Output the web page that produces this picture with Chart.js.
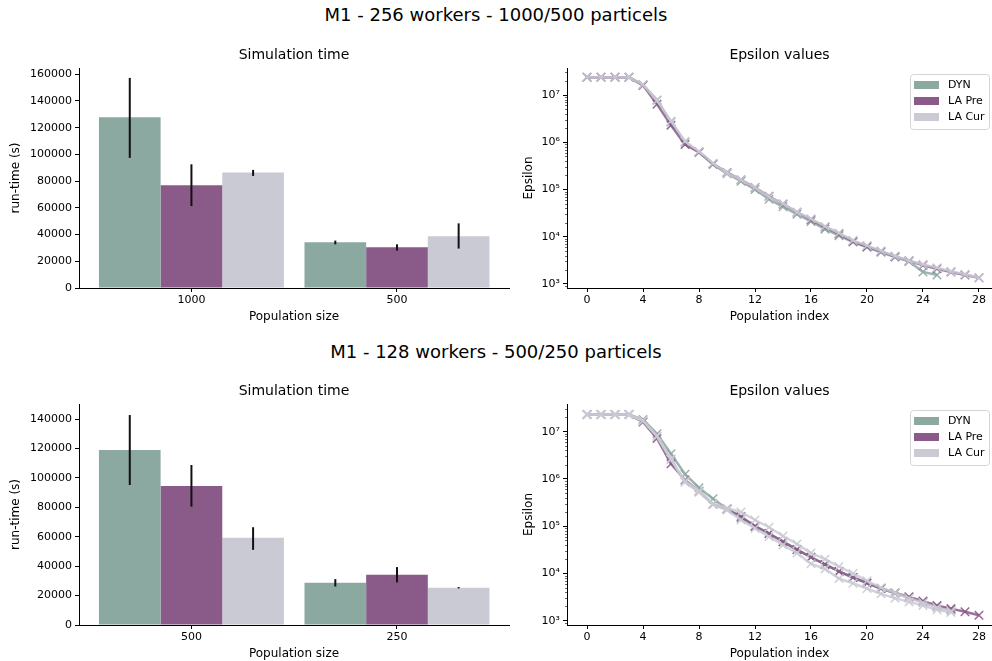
<!DOCTYPE html>
<html lang="en">
<head>
    <meta charset="UTF-8">
    <title>M1 - simulation time and epsilon values</title>
    <script src="https://cdn.jsdelivr.net/npm/chart.js"></script>
    <style>
        body {
            margin: 0;
            width: 992px;
            height: 661px;
            overflow: hidden;
            background: #ffffff;
            font-family: 'DejaVu Sans', sans-serif;
            position: relative;
        }
        .suptitle {
            position: absolute;
            left: 0;
            width: 992px;
            text-align: center;
            font-size: 18px;
            color: #000;
            line-height: 22px;
        }
        .panel {
            position: absolute;
        }
    </style>
</head>
<body>
    <div class="suptitle" style="top: 4px;">M1 - 256 workers - 1000/500 particels</div>
    <div class="suptitle" style="top: 341px;">M1 - 128 workers - 500/250 particels</div>

    <div class="panel" style="left: 0; top: 38px; width: 520px; height: 286px;"><canvas id="timeTop"></canvas></div>
    <div class="panel" style="left: 520px; top: 38px; width: 472px; height: 286px;"><canvas id="epsTop"></canvas></div>
    <div class="panel" style="left: 0; top: 374px; width: 520px; height: 287px;"><canvas id="timeBottom"></canvas></div>
    <div class="panel" style="left: 520px; top: 374px; width: 472px; height: 287px;"><canvas id="epsBottom"></canvas></div>

    <script>
        // methods and colours
        const methods = ['DYN', 'LA Pre', 'LA Cur'];
        const methodColors = ['#8ba8a1', '#8a5a89', '#cacad4'];

        // run-time, 256 workers
        const topSizes = ['1000', '500'];
        const topDyn = [127800, 34200];
        const topDynLow = [97400, 32700];
        const topDynHigh = [157300, 35500];
        const topLaPre = [76900, 30500];
        const topLaPreLow = [61400, 28000];
        const topLaPreHigh = [92600, 32700];
        const topLaCur = [86400, 38700];
        const topLaCurLow = [83900, 29500];
        const topLaCurHigh = [88400, 48400];
        const topRuntimeTicks = [0, 20000, 40000, 60000, 80000, 100000, 120000, 140000, 160000];

        // run-time, 128 workers
        const bottomSizes = ['500', '250'];
        const bottomDyn = [119000, 28700];
        const bottomDynLow = [95200, 26200];
        const bottomDynHigh = [142800, 31200];
        const bottomLaPre = [94600, 34200];
        const bottomLaPreLow = [80500, 29000];
        const bottomLaPreHigh = [108800, 39400];
        const bottomLaCur = [59300, 25300];
        const bottomLaCurLow = [51100, 24900];
        const bottomLaCurHigh = [66500, 25800];
        const bottomRuntimeTicks = [0, 20000, 40000, 60000, 80000, 100000, 120000, 140000];

        // epsilon per population index, 256 workers
        const topDynEps = [2.37e7, 2.37e7, 2.37e7, 2.37e7, 1.65e7, 7.8e6, 2.7e6, 1.0e6, 6.1e5, 3.4e5,
            2.15e5, 1.5e5, 1.0e5, 6.2e4, 4.3e4, 3.0e4, 2.1e4, 1.45e4, 1.05e4, 7.7e3,
            6.0e3, 4.7e3, 3.7e3, 3.0e3, 1.8e3, 1.55e3];
        const topLaPreEps = [2.37e7, 2.37e7, 2.37e7, 2.37e7, 1.6e7, 6.4e6, 2.3e6, 9.0e5, 6.2e5, 3.5e5,
            2.3e5, 1.6e5, 1.1e5, 7.2e4, 4.9e4, 3.3e4, 2.3e4, 1.6e4, 1.15e4, 8.0e3,
            6.2e3, 4.9e3, 3.8e3, 3.1e3, 2.5e3, 2.1e3, 1.8e3, 1.55e3, 1.35e3];
        const topLaCurEps = [2.37e7, 2.37e7, 2.37e7, 2.37e7, 1.65e7, 7.6e6, 2.8e6, 1.05e6, 6.4e5, 3.6e5,
            2.25e5, 1.6e5, 1.1e5, 7.0e4, 5.0e4, 3.3e4, 2.4e4, 1.65e4, 1.2e4, 8.4e3,
            6.5e3, 5.0e3, 3.9e3, 3.1e3, 2.6e3, 2.2e3, 1.85e3, 1.6e3, 1.35e3];

        // epsilon per population index, 128 workers (LA Cur has two runs)
        const bottomDynEps = [2.3e7, 2.3e7, 2.3e7, 2.3e7, 1.8e7, 9.0e6, 3.4e6, 1.26e6, 6.5e5, 3.8e5,
            2.35e5, 1.5e5, 1.0e5, 7.0e4, 4.7e4, 3.2e4, 2.2e4, 1.55e4, 1.1e4, 8.2e3,
            6.2e3, 4.8e3, 3.8e3, 3.1e3, 2.5e3, 2.0e3, 1.7e3];
        const bottomLaPreEps = [2.3e7, 2.3e7, 2.3e7, 2.3e7, 1.6e7, 7.2e6, 2.1e6, 9.5e5, 5.5e5, 2.9e5,
            2.3e5, 1.6e5, 1.0e5, 7.0e4, 4.7e4, 3.2e4, 2.2e4, 1.55e4, 1.1e4, 8.2e3,
            6.3e3, 4.8e3, 3.9e3, 3.2e3, 2.6e3, 2.1e3, 1.8e3, 1.55e3, 1.3e3];
        const bottomLaCurEpsA = [2.3e7, 2.3e7, 2.3e7, 2.3e7, 1.7e7, 8.0e6, 2.6e6, 9.0e5, 5.6e5, 3.0e5,
            2.4e5, 2.0e5, 1.35e5, 9.5e4, 6.2e4, 4.2e4, 2.7e4, 2.0e4, 1.4e4, 1.0e4,
            7.0e3, 5.0e3, 3.9e3, 3.0e3, 2.4e3, 1.9e3, 1.6e3];
        const bottomLaCurEpsB = [2.3e7, 2.3e7, 2.3e7, 2.3e7, 1.7e7, 8.0e6, 2.6e6, 8.5e5, 5.2e5, 2.9e5,
            2.2e5, 1.35e5, 9.0e4, 6.0e4, 4.0e4, 2.7e4, 1.6e4, 1.25e4, 7.8e3, 6.2e3,
            4.8e3, 3.7e3, 3.0e3, 2.5e3, 2.1e3, 1.7e3, 1.5e3];

        const indexTicks = [0, 4, 8, 12, 16, 20, 24, 28];
        const epsTicks = [1e3, 1e4, 1e5, 1e6, 1e7];

        Chart.defaults.font.family = "'DejaVu Sans', sans-serif";
        Chart.defaults.font.size = 11;
        Chart.defaults.color = '#000';
        Chart.defaults.animation = false;
        Chart.defaults.responsive = true;
        Chart.defaults.maintainAspectRatio = false;

        const superDigits = { '0': '⁰', '1': '¹', '2': '²', '3': '³', '4': '⁴', '5': '⁵', '6': '⁶', '7': '⁷', '8': '⁸', '9': '⁹' };
        function powerLabel(v) {
            const e = Math.round(Math.log10(v));
            return '10' + String(e).split('').map(d => superDigits[d]).join('');
        }

        function withAlpha(hex, a) {
            const n = parseInt(hex.slice(1), 16);
            return `rgba(${n >> 16}, ${(n >> 8) & 255}, ${n & 255}, ${a})`;
        }

        // subplot title centred over the plot area
        const axesTitle = {
            id: 'axesTitle',
            afterDraw(chart, args, opts) {
                const ctx = chart.ctx;
                const area = chart.chartArea;
                ctx.save();
                ctx.font = "14px 'DejaVu Sans'";
                ctx.fillStyle = '#000';
                ctx.textAlign = 'center';
                ctx.textBaseline = 'middle';
                ctx.fillText(opts.text, (area.left + area.right) / 2, 17);
                ctx.restore();
            }
        };

        // black vertical error bars on top of each bar
        const errorBars = {
            id: 'errorBars',
            afterDatasetsDraw(chart) {
                const ctx = chart.ctx;
                const y = chart.scales.y;
                ctx.save();
                ctx.strokeStyle = '#111';
                ctx.lineWidth = 2;
                chart.data.datasets.forEach((ds, i) => {
                    const meta = chart.getDatasetMeta(i);
                    meta.data.forEach((bar, j) => {
                        ctx.beginPath();
                        ctx.moveTo(bar.x, y.getPixelForValue(ds.low[j]));
                        ctx.lineTo(bar.x, y.getPixelForValue(ds.high[j]));
                        ctx.stroke();
                    });
                });
                ctx.restore();
            }
        };

        // minor ticks on the log axis
        const minorTicks = {
            id: 'minorTicks',
            afterDraw(chart) {
                const y = chart.scales.y;
                const ctx = chart.ctx;
                const left = chart.chartArea.left;
                ctx.save();
                ctx.strokeStyle = '#000';
                ctx.lineWidth = 0.6;
                for (let e = 2; e <= 7; e++) {
                    for (let k = 2; k <= 9; k++) {
                        const v = k * Math.pow(10, e);
                        if (v < y.min || v > y.max) continue;
                        const py = Math.round(y.getPixelForValue(v)) + 0.5;
                        ctx.beginPath();
                        ctx.moveTo(left - 2, py);
                        ctx.lineTo(left, py);
                        ctx.stroke();
                    }
                }
                ctx.restore();
            }
        };

        // boxed legend with colour patches, top right of the plot
        const patchLegend = {
            id: 'patchLegend',
            afterDraw(chart) {
                const ctx = chart.ctx;
                const area = chart.chartArea;
                const w = 79, h = 55;
                const bx = area.right - w - 3, by = area.top + 6;
                ctx.save();
                ctx.fillStyle = 'rgba(255,255,255,0.8)';
                ctx.strokeStyle = '#d4d4d4';
                ctx.lineWidth = 1;
                ctx.beginPath();
                ctx.roundRect(bx + 0.5, by + 0.5, w, h, 3);
                ctx.fill();
                ctx.stroke();
                ctx.font = "11px 'DejaVu Sans'";
                ctx.textBaseline = 'middle';
                methods.forEach((m, i) => {
                    const cy = by + 11 + i * 16;
                    ctx.fillStyle = methodColors[i];
                    ctx.fillRect(bx + 4, cy - 4, 25, 8);
                    ctx.fillStyle = '#000';
                    ctx.fillText(m, bx + 38, cy);
                });
                ctx.restore();
            }
        };

        const axisLine = { display: true, color: '#000', width: 1 };
        const tickGrid = { display: true, drawOnChartArea: false, drawTicks: true, tickLength: 4, color: '#000', offset: false };
        const labelFont = { size: 12 };

        // keep the plot area at a fixed size, whatever the tick labels need
        function fixHeight(h) {
            return s => { s.height = h; s.paddingLeft = 0; s.paddingRight = 0; };
        }
        function fixWidth(w) {
            return s => { s.width = w; s.paddingTop = 0; s.paddingBottom = 0; };
        }

        function timeChart(id, sizes, series, yMax, yTicks) {
            const datasets = series.map((s, i) => ({
                label: methods[i],
                data: s.values.map((v, j) => ({ x: j, y: v })),
                low: s.low,
                high: s.high,
                backgroundColor: methodColors[i],
                borderWidth: 0,
                categoryPercentage: 0.9,
                barPercentage: 1.0
            }));
            return new Chart(document.getElementById(id), {
                type: 'bar',
                data: { datasets: datasets },
                options: {
                    layout: { autoPadding: false, padding: { left: 0, right: 11, top: 30, bottom: 0 } },
                    plugins: {
                        legend: { display: false },
                        tooltip: { enabled: false },
                        axesTitle: { text: 'Simulation time' }
                    },
                    scales: {
                        x: {
                            type: 'linear',
                            min: -0.547,
                            max: 1.545,
                            offset: false,
                            border: axisLine,
                            grid: tickGrid,
                            afterBuildTicks: s => { s.ticks = sizes.map((_, i) => ({ value: i })); },
                            afterFit: fixHeight(36),
                            ticks: { padding: 2, maxRotation: 0, callback: v => sizes[v] },
                            title: { display: true, text: 'Population size', font: labelFont, padding: { top: 0, bottom: 0 } }
                        },
                        y: {
                            min: 0,
                            max: yMax,
                            border: axisLine,
                            grid: tickGrid,
                            afterBuildTicks: s => { s.ticks = yTicks.map(v => ({ value: v })); },
                            afterFit: fixWidth(79),
                            ticks: { padding: 3, callback: v => String(v) },
                            title: { display: true, text: 'run-time (s)', font: labelFont, padding: { top: 9, bottom: 0 } }
                        }
                    }
                },
                plugins: [axesTitle, errorBars]
            });
        }

        function epsChart(id, runs, yMin, yMax) {
            const order = [3, 2, 1];
            const datasets = runs.map(r => ({
                label: methods[r.method],
                data: r.values.map((v, j) => ({ x: j, y: v })),
                borderColor: withAlpha(methodColors[r.method], 0.85),
                backgroundColor: withAlpha(methodColors[r.method], 0.85),
                borderWidth: 2.5,
                pointStyle: 'crossRot',
                pointRadius: 6,
                pointBorderWidth: 1.5,
                pointBorderColor: withAlpha(methodColors[r.method], 0.9),
                order: order[r.method],
                tension: 0
            }));
            return new Chart(document.getElementById(id), {
                type: 'line',
                data: { datasets: datasets },
                options: {
                    layout: { autoPadding: false, padding: { left: 0, right: 0, top: 30, bottom: 0 } },
                    plugins: {
                        legend: { display: false },
                        tooltip: { enabled: false },
                        axesTitle: { text: 'Epsilon values' }
                    },
                    scales: {
                        x: {
                            type: 'linear',
                            min: -1.43,
                            max: 28.93,
                            border: axisLine,
                            grid: tickGrid,
                            afterBuildTicks: s => { s.ticks = indexTicks.map(v => ({ value: v })); },
                            afterFit: fixHeight(36),
                            ticks: { padding: 2, maxRotation: 0 },
                            title: { display: true, text: 'Population index', font: labelFont, padding: { top: 0, bottom: 0 } }
                        },
                        y: {
                            type: 'logarithmic',
                            min: yMin,
                            max: yMax,
                            border: axisLine,
                            grid: tickGrid,
                            afterBuildTicks: s => { s.ticks = epsTicks.map(v => ({ value: v })); },
                            afterFit: fixWidth(47),
                            ticks: { padding: 3, callback: v => powerLabel(v) },
                            title: { display: true, text: 'Epsilon', font: labelFont, padding: { top: 2, bottom: 0 } }
                        }
                    }
                },
                plugins: [axesTitle, minorTicks, patchLegend]
            });
        }

        timeChart('timeTop', topSizes, [
            { values: topDyn, low: topDynLow, high: topDynHigh },
            { values: topLaPre, low: topLaPreLow, high: topLaPreHigh },
            { values: topLaCur, low: topLaCurLow, high: topLaCurHigh }
        ], 164700, topRuntimeTicks);

        timeChart('timeBottom', bottomSizes, [
            { values: bottomDyn, low: bottomDynLow, high: bottomDynHigh },
            { values: bottomLaPre, low: bottomLaPreLow, high: bottomLaPreHigh },
            { values: bottomLaCur, low: bottomLaCurLow, high: bottomLaCurHigh }
        ], 150300, bottomRuntimeTicks);

        epsChart('epsTop', [
            { method: 0, values: topDynEps },
            { method: 1, values: topLaPreEps },
            { method: 2, values: topLaCurEps }
        ], 822, 3.73e7);

        epsChart('epsBottom', [
            { method: 0, values: bottomDynEps },
            { method: 1, values: bottomLaPreEps },
            { method: 2, values: bottomLaCurEpsA },
            { method: 2, values: bottomLaCurEpsB }
        ], 811, 3.85e7);
    </script>
</body>
</html>
